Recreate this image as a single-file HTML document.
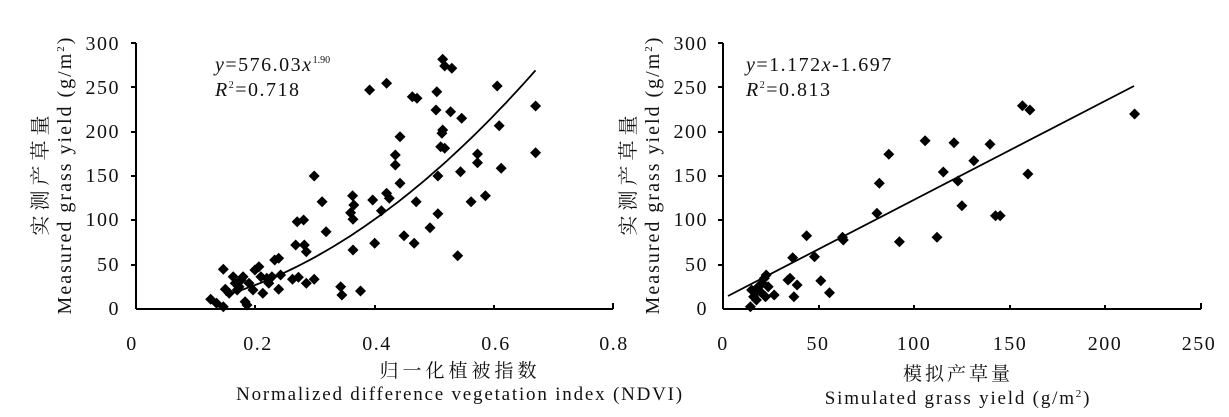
<!DOCTYPE html>
<html><head><meta charset="utf-8"><style>
html,body{margin:0;padding:0;background:#fff;}
svg{display:block;font-family:"Liberation Serif","Noto Serif CJK SC",serif;}
</style></head><body>
<svg id="s" width="1229" height="417" viewBox="0 0 1229 417" xmlns="http://www.w3.org/2000/svg">
<g stroke="#000" stroke-width="2" fill="none">
<line x1="136" y1="43" x2="136" y2="309"/><line x1="136" y1="309" x2="613" y2="309"/>
<line x1="723" y1="43" x2="723" y2="309"/><line x1="723" y1="309" x2="1201" y2="309"/>
<path d="M131 43H136M131 87H136M131 132H136M131 176H136M131 220H136M131 265H136M255 309V305M375 309V305M494 309V305M613 309V303"/>
<path d="M718 43H723M718 87H723M718 132H723M718 176H723M718 220H723M718 265H723M819 309V305M914 309V305M1010 309V305M1105 309V305M1201 309V303"/>
</g>
<g id="g" fill="#000"></g>
<g font-size="20" fill="#111" text-anchor="end" letter-spacing="1.5">
<text x="120" y="50">300</text><text x="120" y="94">250</text><text x="120" y="138">200</text><text x="120" y="182">150</text><text x="120" y="226">100</text><text x="120" y="271">50</text><text x="120" y="315">0</text>
<text x="708" y="50">300</text><text x="708" y="94">250</text><text x="708" y="138">200</text><text x="708" y="182">150</text><text x="708" y="226">100</text><text x="708" y="271">50</text><text x="708" y="315">0</text>
</g>
<g font-size="20" fill="#111" text-anchor="middle" letter-spacing="1.5">
<text x="132" y="350">0</text><text x="258" y="350">0.2</text><text x="377" y="350">0.4</text><text x="496" y="350">0.6</text><text x="614" y="350">0.8</text>
<text x="723" y="350">0</text><text x="818" y="350">50</text><text x="914" y="350">100</text><text x="1010" y="350">150</text><text x="1105" y="350">200</text><text x="1199" y="350">250</text>
<text x="460" y="377" font-size="19" letter-spacing="4">归一化植被指数</text>
<text x="460" y="400" font-size="19" letter-spacing="1.8">Normalized difference vegetation index (NDVI)</text>
<text x="958" y="380" font-size="19" letter-spacing="3">模拟产草量</text>
<text x="958" y="404" font-size="19" letter-spacing="1.8">Simulated grass yield (g/m<tspan font-size="11" dy="-7">2</tspan><tspan dy="7">)</tspan></text>
<text transform="translate(47,173) rotate(-90)" font-size="20" letter-spacing="5">实测产草量</text>
<text transform="translate(71,175) rotate(-90)" font-size="20" letter-spacing="2">Measured grass yield (g/m<tspan font-size="11" dy="-7">2</tspan><tspan dy="7">)</tspan></text>
<text transform="translate(635,173) rotate(-90)" font-size="20" letter-spacing="5">实测产草量</text>
<text transform="translate(659,175) rotate(-90)" font-size="20" letter-spacing="2">Measured grass yield (g/m<tspan font-size="11" dy="-7">2</tspan><tspan dy="7">)</tspan></text>
</g>
<g font-size="20" fill="#111" letter-spacing="1.5">
<text x="215" y="71"><tspan font-style="italic">y</tspan>=576.03<tspan font-style="italic">x</tspan><tspan font-size="10" dy="-8" letter-spacing="0">1.90</tspan></text>
<text x="215" y="96"><tspan font-style="italic">R</tspan><tspan font-size="10" dy="-8">2</tspan><tspan dy="8">=0.718</tspan></text>
<text x="746" y="71"><tspan font-style="italic">y</tspan>=1.172<tspan font-style="italic">x</tspan>-1.697</text>
<text x="746" y="96"><tspan font-style="italic">R</tspan><tspan font-size="10" dy="-8">2</tspan><tspan dy="8">=0.813</tspan></text>
</g>
<path id="c1" stroke="#000" stroke-width="1.8" fill="none"/>
<line x1="728" y1="296" x2="1134" y2="86" stroke="#000" stroke-width="1.8"/>
</svg>
<script>
var L=[[565,718],[533,808],[548,820],[565,830],[570,778],[580,790],[590,740],[595,760],[600,780],[605,770],[610,750],[615,740],[620,815],[625,825],[630,760],[640,780],[645,720],[655,710],[660,740],[665,790],[675,745],[680,760],[688,740],[695,690],[705,685],[705,778],[710,735],[740,748],[748,645],[752,575],[755,742],[768,570],[770,645],[775,665],[775,760],[795,438],[795,748],[815,515],[825,605],[862,770],[865,795],[887,548],[892,497],[895,525],[893,568],[893,660],[912,783],[935,180],[943,510],[948,640],[965,542],[978,160],[978,490],[985,505],[1000,375],[1000,405],[1012,320],[1012,460],[1022,617],[1043,200],[1048,640],[1053,515],[1055,205],[1088,593],[1103,240],[1105,185],[1108,551],[1108,438],[1115,350],[1118,310],[1120,300],[1120,88],[1125,108],[1125,355],[1140,245],[1143,115],[1158,677],[1165,425],[1168,265],[1192,515],[1208,398],[1208,372],[1228,497],[1258,168],[1263,287],[1268,415],[1355,228],[1355,368]];
var R=[[330,830],[333,780],[338,800],[342,790],[345,810],[350,770],[355,785],[360,760],[365,745],[370,735],[368,800],[375,770],[390,795],[425,750],[430,745],[437,683],[440,800],[448,765],[472,617],[492,680],[508,752],[530,788],[563,622],[565,630],[650,550],[656,460],[680,373],[707,635],[772,332],[802,622],[818,426],[845,338],[855,453],[865,527],[895,392],[936,343],[950,557],[962,557],[1018,227],[1032,432],[1037,240],[1302,252]];
var g=document.getElementById('g'),h='';
function d(x,y){h+='<path d="M'+x.toFixed(1)+' '+(y-5.5).toFixed(1)+'l5.5 5.5l-5.5 5.5l-5.5 -5.5z"/>';}
L.forEach(function(p){d(p[0]/2.53,30+p[1]/3);});
R.forEach(function(p){d(620+p[0]/2.53,30+p[1]/3);});
g.innerHTML=h;
var s='';for(var x=0.15;x<=0.6701;x+=0.01){var v=576.03*Math.pow(x,1.9);var px=136+x/0.8*477,py=309-v/300*266;s+=(s?'L':'M')+px.toFixed(1)+' '+py.toFixed(1);}
document.getElementById('c1').setAttribute('d',s);
</script>
</body></html>
